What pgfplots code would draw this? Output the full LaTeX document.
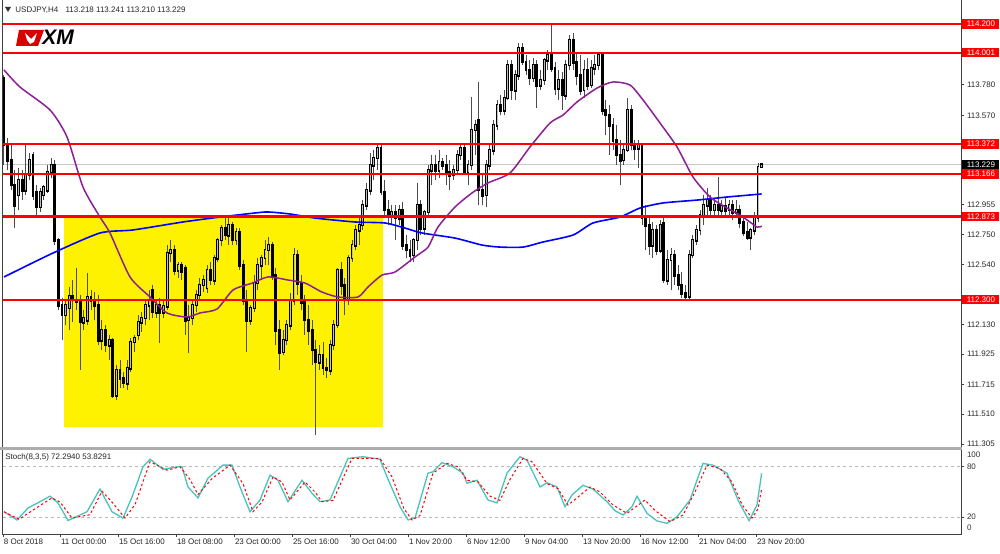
\documentclass[border=0pt]{standalone}
\usepackage{pgfplots}
\pgfplotsset{compat=1.18}
\usepackage{pgfplotstable}
\usepackage{fontspec}
\setmainfont{Liberation Sans}
\definecolor{mablue}{RGB}{0,0,255}
\definecolor{mapurple}{RGB}{140,30,150}
\definecolor{stk}{RGB}{72,196,190}
\definecolor{lvlred}{RGB}{255,0,0}
\newcommand{\smallfont}{\fontsize{4}{4.5}\selectfont}

\pgfplotstableread{
i o h l c
0 113.827 113.848 113.228 113.366
1 113.366 113.414 113.193 113.262
2 113.262 113.366 113.055 113.090
3 113.090 113.193 112.793 112.952
4 113.021 113.207 112.918 113.124
5 113.124 113.193 112.986 113.055
6 113.055 113.366 113.021 113.159
7 113.159 113.310 113.124 113.262
8 113.297 113.317 112.986 113.021
9 113.042 113.090 112.862 112.938
10 112.938 113.069 112.904 113.042
11 113.021 113.090 112.986 113.076
12 113.055 113.228 113.035 113.179
13 113.179 113.276 113.138 113.228
14 113.228 113.262 112.676 112.711
15 112.711 112.725 112.228 112.263
16 112.263 112.311 112.021 112.194
17 112.194 112.297 112.125 112.263
18 112.242 112.387 112.090 112.325
19 112.325 112.435 112.145 112.297
20 112.297 112.518 112.228 112.283
21 112.297 112.332 111.815 112.145
22 112.145 112.228 112.090 112.173
23 112.159 112.483 112.125 112.318
24 112.318 112.366 112.228 112.297
25 112.297 112.352 112.159 112.263
26 112.263 112.332 111.987 112.021
27 112.021 112.159 111.952 112.090
28 112.090 112.125 111.939 111.987
29 111.987 112.056 111.884 112.021
30 112.021 112.035 111.622 111.642
31 111.642 111.849 111.608 111.815
32 111.815 111.884 111.691 111.759
33 111.759 111.801 111.691 111.725
34 111.725 111.884 111.677 111.828
35 111.828 112.035 111.801 112.008
36 112.008 112.056 111.939 112.035
37 112.056 112.194 112.021 112.145
38 112.145 112.214 112.077 112.173
39 112.173 112.297 112.125 112.263
40 112.263 112.366 112.159 112.297
41 112.366 112.401 112.173 112.214
42 112.214 112.297 112.173 112.263
43 112.263 112.311 112.001 112.214
44 112.214 112.297 112.173 112.256
45 112.256 112.676 112.228 112.621
46 112.621 112.711 112.559 112.642
47 112.642 112.676 112.469 112.504
48 112.504 112.559 112.449 112.538
49 112.538 112.559 112.435 112.490
50 112.518 112.538 112.056 112.159
51 112.159 112.263 111.932 112.173
52 112.173 112.297 112.125 112.263
53 112.263 112.366 112.214 112.332
54 112.332 112.449 112.297 112.401
55 112.401 112.469 112.352 112.435
56 112.380 112.538 112.345 112.504
57 112.504 112.559 112.401 112.435
58 112.435 112.607 112.401 112.587
59 112.587 112.725 112.559 112.711
60 112.711 112.814 112.669 112.793
61 112.793 112.869 112.711 112.745
62 112.745 112.869 112.676 112.814
63 112.814 112.835 112.676 112.711
64 112.711 112.793 112.676 112.766
65 112.766 112.793 112.504 112.538
66 112.538 112.573 112.263 112.297
67 112.297 112.366 111.939 112.159
68 112.159 112.263 112.125 112.242
69 112.242 112.469 112.214 112.414
70 112.414 112.587 112.366 112.538
71 112.538 112.607 112.435 112.587
72 112.587 112.711 112.538 112.642
73 112.642 112.731 112.538 112.676
74 112.676 112.697 112.435 112.469
75 112.469 112.518 111.987 112.090
76 112.090 112.159 111.815 111.939
77 111.939 112.090 111.918 112.021
78 112.021 112.159 111.987 112.125
79 112.125 112.345 112.090 112.297
80 112.297 112.656 112.263 112.607
81 112.607 112.642 112.332 112.414
82 112.414 112.469 112.228 112.283
83 112.283 112.332 112.056 112.159
84 112.159 112.263 111.987 112.090
85 112.090 112.159 111.849 111.952
86 111.952 112.021 111.367 111.870
87 111.870 111.987 111.815 111.918
88 111.918 112.008 111.780 111.828
89 111.828 111.897 111.759 111.815
90 111.815 112.021 111.780 111.987
91 111.987 112.159 111.952 112.125
92 112.125 112.518 112.104 112.504
93 112.504 112.559 112.332 112.401
94 112.401 112.449 112.194 112.297
95 112.297 112.607 112.263 112.587
96 112.587 112.711 112.559 112.676
97 112.676 112.814 112.642 112.780
98 112.780 112.883 112.676 112.814
99 112.814 112.986 112.780 112.952
100 112.952 113.104 112.918 113.055
101 113.055 113.310 113.021 113.228
102 113.228 113.331 113.124 113.276
103 113.276 113.366 113.193 113.345
104 113.345 113.372 113.021 113.042
105 113.042 113.124 112.883 112.918
106 112.918 112.986 112.814 112.883
107 112.883 112.952 112.814 112.904
108 112.904 112.952 112.711 112.862
109 112.862 112.952 112.814 112.918
110 112.918 112.973 112.642 112.676
111 112.676 112.745 112.587 112.642
112 112.642 112.711 112.559 112.607
113 112.607 112.725 112.559 112.711
114 112.711 113.104 112.642 112.952
115 112.952 112.986 112.745 112.793
116 112.793 112.918 112.745 112.904
117 112.904 113.228 112.862 113.193
118 113.193 113.297 113.090 113.228
119 113.228 113.297 113.124 113.193
120 113.193 113.331 113.138 113.248
121 113.248 113.276 113.193 113.228
122 113.228 113.297 113.090 113.179
123 113.179 113.262 113.055 113.159
124 113.159 113.228 113.124 113.193
125 113.193 113.331 113.159 113.297
126 113.297 113.379 113.262 113.345
127 113.345 113.379 113.159 113.179
128 113.179 113.262 113.090 113.228
129 113.228 113.696 113.193 113.469
130 113.469 113.538 113.297 113.503
131 113.538 113.800 112.952 113.055
132 113.055 113.159 112.952 113.021
133 113.021 113.262 112.938 113.228
134 113.228 113.366 113.193 113.331
135 113.331 113.538 113.297 113.503
136 113.503 113.676 113.469 113.641
137 113.641 113.710 113.572 113.607
138 113.607 113.745 113.572 113.690
139 113.690 113.951 113.676 113.917
140 113.917 113.951 113.676 113.745
141 113.745 113.883 113.676 113.848
142 113.848 114.069 113.814 114.034
143 114.034 114.069 113.917 113.938
144 113.938 113.986 113.848 113.883
145 113.883 113.951 113.779 113.827
146 113.827 113.965 113.800 113.917
147 113.917 113.951 113.621 113.779
148 113.779 113.883 113.745 113.814
149 113.814 113.965 113.779 113.951
150 113.951 114.020 113.883 113.986
151 113.986 114.193 113.869 113.896
152 113.896 113.938 113.710 113.758
153 113.758 113.883 113.676 113.814
154 113.814 113.869 113.607 113.710
155 113.710 113.951 113.676 113.917
156 113.917 114.124 113.883 114.089
157 114.089 114.137 113.883 113.938
158 113.938 114.007 113.779 113.848
159 113.848 113.986 113.710 113.745
160 113.745 113.951 113.690 113.883
161 113.883 113.965 113.745 113.779
162 113.779 113.951 113.758 113.896
163 113.896 113.986 113.848 113.917
164 113.917 114.000 113.883 113.986
165 113.986 114.000 113.572 113.607
166 113.607 113.676 113.434 113.572
167 113.572 113.641 113.297 113.503
168 113.503 113.552 113.331 113.400
169 113.400 113.503 113.228 113.297
170 113.297 113.400 113.090 113.262
171 113.262 113.366 113.228 113.331
172 113.331 113.690 113.317 113.607
173 113.607 113.641 113.331 113.366
174 113.366 113.400 113.262 113.345
175 113.345 113.400 113.207 113.366
176 113.366 113.379 112.814 112.869
177 112.869 112.952 112.642 112.814
178 112.814 112.883 112.607 112.676
179 112.676 112.835 112.587 112.780
180 112.780 112.814 112.607 112.642
181 112.642 112.849 112.621 112.814
182 112.828 112.862 112.414 112.435
183 112.435 112.642 112.401 112.573
184 112.573 112.656 112.366 112.607
185 112.607 112.642 112.401 112.469
186 112.469 112.538 112.366 112.401
187 112.401 112.490 112.311 112.345
188 112.345 112.401 112.297 112.325
189 112.325 112.642 112.297 112.607
190 112.607 112.745 112.587 112.711
191 112.711 112.814 112.676 112.780
192 112.780 112.918 112.745 112.883
193 112.883 113.021 112.814 112.952
194 112.952 113.069 112.883 112.986
195 112.986 113.021 112.862 112.918
196 112.918 113.000 112.862 112.952
197 112.952 113.145 112.883 112.918
198 112.918 112.986 112.862 112.945
199 112.945 113.000 112.883 112.918
200 112.918 112.986 112.862 112.952
201 112.952 112.986 112.849 112.904
202 112.904 112.986 112.862 112.918
203 112.918 112.952 112.793 112.835
204 112.835 112.883 112.738 112.766
205 112.766 112.835 112.711 112.731
206 112.731 112.793 112.642 112.780
207 112.780 112.904 112.745 112.869
208 112.869 113.241 112.835 113.214
209 113.218 113.241 113.210 113.229
}\candles

\begin{document}
\begin{tikzpicture}[x=0.5pt,y=0.5pt]
\fill[white] (0,0) rectangle (1000,553);

% ---------------- main price panel ----------------
\begin{axis}[
  at={(1.5pt,53pt)}, anchor=south west, scale only axis,
  width=479pt, height=223.5pt,
  xmin=-0.276, xmax=264, ymin=111.284, ymax=114.365,
  axis line style={black!75, line width=0.5pt},
  xtick=\empty,
  ytick pos=right, yticklabel pos=right,
  ytick={111.305,111.510,111.715,111.925,112.130,112.540,112.750,112.955,113.570,113.780},
  yticklabels={111.305,111.510,111.715,111.925,112.130,112.540,112.750,112.955,113.570,113.780},
  tick align=outside, major tick length=1.5pt,
  tick style={black!75, line width=0.4pt},
  yticklabel style={font=\smallfont, inner sep=0pt, anchor=west, xshift=1.3pt, text=black!85},
  clip mode=individual,
]
% highlighted range
\addplot[fill=yellow, draw=none] coordinates {(16.55,111.424) (104.55,111.424) (104.55,112.873) (16.55,112.873)};
% current price line
\addplot[gray!45, line width=0.4pt] coordinates {(-0.276,113.229) (264,113.229)};
% wicks
\addplot[only marks, mark size=0pt, mark options={draw=none,fill=none}, error bars/.cd, y dir=plus, y explicit, error mark=none,
  error bar style={black!70, line width=0.5pt}]
  table[x=i, y=l, y error expr={\thisrow{h}-\thisrow{l}}] {\candles};
% bodies (outline / bearish fill)
\addplot[only marks, mark size=0pt, mark options={draw=none,fill=none}, error bars/.cd, y dir=both, y explicit, error mark=none,
  error bar style={black, line width=1.4pt, line cap=rect}]
  table[x=i, y expr={(\thisrow{o}+\thisrow{c})/2}, y error expr={abs(\thisrow{c}-\thisrow{o})/2}] {\candles};
% bullish interior
\addplot[only marks, mark size=0pt, mark options={draw=none,fill=none}, error bars/.cd, y dir=both, y explicit, error mark=none,
  error bar style={black!25, line width=0.5pt, line cap=butt}]
  table[x=i, y expr={(\thisrow{o}+\thisrow{c})/2}, y error expr={max(\thisrow{c}-\thisrow{o},0)/2}] {\candles};
% moving averages
\addplot[mablue, line width=0.8pt, smooth, tension=0.4] coordinates {
(0,112.456) (13.52,112.621) (26.48,112.759) (35.59,112.780) (49.38,112.835) (59.59,112.869)
(69.24,112.897) (72.83,112.904) (78.90,112.890) (85.79,112.862) (96.83,112.835) (105.10,112.828)
(110.62,112.793) (115.31,112.759) (124.41,112.724) (131.86,112.676) (136.83,112.662) (143.17,112.662)
(148.69,112.697) (156.97,112.745) (162.48,112.828) (169.93,112.869) (175.45,112.931) (181.79,112.966)
(191.17,112.986) (199.45,113.007) (209,113.028)};
\addplot[mapurple, line width=0.75pt, smooth, tension=0.4] coordinates {
(0,113.883) (4.41,113.765) (12.69,113.607) (17.38,113.421) (21.79,113.076) (26.48,112.869)
(29.24,112.759) (34.76,112.456) (40.28,112.318) (44.97,112.208) (50.48,112.180) (54.07,112.208)
(58.76,112.235) (63.17,112.366) (68.5,112.414) (72.83,112.456) (78.34,112.435) (83.03,112.414)
(87.72,112.352) (92.14,112.318) (97.66,112.318) (100.41,112.387) (104.28,112.469) (107.86,112.490)
(113.38,112.594) (116.97,112.662) (119.72,112.800) (124.41,112.938) (129.10,113.035) (133.52,113.104)
(139.59,113.173) (145.10,113.352) (150.62,113.517) (154.21,113.572) (158.07,113.662) (163.59,113.758)
(168.00,113.800) (172.69,113.779) (176.28,113.676) (180.97,113.517) (185.66,113.352) (190.07,113.145)
(194.76,113.007) (199.45,112.931) (203.86,112.869) (207.72,112.800) (209,112.807)};
% horizontal levels
\addplot[lvlred, line width=1.05pt] coordinates {(-0.276,114.200) (264,114.200)};
\addplot[lvlred, line width=1.05pt] coordinates {(-0.276,114.001) (264,114.001)};
\addplot[lvlred, line width=1.05pt] coordinates {(-0.276,113.372) (264,113.372)};
\addplot[lvlred, line width=1.05pt] coordinates {(-0.276,113.166) (264,113.166)};
\addplot[lvlred, line width=1.05pt] coordinates {(-0.276,112.873) (264,112.873)};
\addplot[lvlred, line width=1.05pt] coordinates {(-0.276,112.300) (264,112.300)};
% price labels
\tikzset{lvl/.style={fill=lvlred, text=white, font=\smallfont, inner sep=0pt, minimum width=18.5pt, minimum height=4.6pt, anchor=west, xshift=0.5pt}}
\node[lvl] at (axis cs:264,114.200) {114.200};
\node[lvl] at (axis cs:264,114.001) {114.001};
\node[lvl] at (axis cs:264,113.372) {113.372};
\node[lvl] at (axis cs:264,113.166) {113.166};
\node[lvl] at (axis cs:264,112.873) {112.873};
\node[lvl] at (axis cs:264,112.300) {112.300};
\node[lvl, fill=black] at (axis cs:264,113.229) {113.229};
\end{axis}

% ---------------- stochastic panel ----------------
\begin{axis}[
  at={(1.5pt,9.5pt)}, anchor=south west, scale only axis,
  width=479pt, height=42.25pt,
  xmin=-0.276, xmax=264, ymin=0, ymax=100.6,
  axis line style={black!75, line width=0.5pt},
  ytick pos=right, yticklabel pos=right,
  ytick={20,80}, yticklabels={20,80},
  extra y ticks={7,94}, extra y tick labels={0,100},
  extra y tick style={tick style={draw=none}},
  xtick={-0.276,15.45,31.45,47.45,63.45,79.45,95.45,111.45,127.45,143.45,159.45,175.45,191.45,207.45},
  xticklabels={8 Oct 2018,11 Oct 00:00,15 Oct 16:00,18 Oct 08:00,23 Oct 00:00,25 Oct 16:00,30 Oct 04:00,1 Nov 20:00,6 Nov 12:00,9 Nov 04:00,13 Nov 20:00,16 Nov 12:00,21 Nov 04:00,23 Nov 20:00},
  xtick pos=left,
  tick align=outside, major tick length=1.5pt,
  tick style={black!75, line width=0.4pt},
  xticklabel style={font=\smallfont, inner sep=0pt, anchor=north west, xshift=0.3pt, yshift=-1pt, text=black!85},
  yticklabel style={font=\smallfont, inner sep=0pt, anchor=west, xshift=1.3pt, text=black!80},
  clip mode=individual,
]
\addplot[gray!55, line width=0.35pt, dash pattern=on 1.5pt off 1.5pt] coordinates {(-0.276,80) (264,80)};
\addplot[gray!55, line width=0.35pt, dash pattern=on 1.5pt off 1.5pt] coordinates {(-0.276,20) (264,20)};
\addplot[stk, line width=0.65pt] coordinates {
(0,26.5) (3.59,16.7) (6.62,31) (9.93,38.5) (12.69,45) (14.90,37) (17.66,16) (22.90,26.5) (26.48,53.5)
(29.79,26.5) (32.83,19) (35.31,44) (38.34,80) (40.28,89) (43.86,77) (47.72,80) (49.10,80) (50.76,56)
(53.52,43) (56.28,66.5) (60.41,82) (62.90,82) (65.10,56) (67.86,26.5) (70.62,40.5) (73.38,70) (75.59,64)
(78.34,38.5) (82.21,64) (84.97,48.5) (87.17,38.5) (89.93,40.5) (94.90,90) (99.03,92) (103.72,89)
(105.66,68) (109.24,32.5) (111.45,16.7) (113.38,19) (116.97,72.5) (118.34,74) (120.83,85) (123.86,80)
(126.62,72.5) (127.72,60.5) (130.48,64) (133.52,40.5) (136.00,37) (138.76,72.5) (142.34,92) (144.28,88)
(147.86,56) (149.79,61) (152.55,56) (154.76,32.5) (156.69,46.5) (159.72,58) (162.48,53.5) (166.34,38.5)
(168.55,27.7) (170.76,22.6) (173.24,32.5) (174.62,45) (177.38,24.6) (180.14,15.5) (182.90,12.7)
(185.66,20.6) (189.24,40.5) (191.17,64) (192.83,84) (195.59,82) (199.45,72.5) (202.48,40.5)
(205.52,15.9) (207.72,34.5) (209,72.29)};
\addplot[red, line width=0.5pt, dash pattern=on 1.2pt off 1.2pt] coordinates {
(0,26.5) (4.14,17.5) (8.55,30) (13.24,43) (15.45,38) (18.76,19) (23.72,23) (27.03,51) (29.79,38)
(33.38,19) (36.14,35) (40.28,86) (44.97,76) (48.55,80) (51.31,65) (53.52,47) (57.38,66) (62.34,82)
(65.93,60) (68.69,26.5) (71.17,38) (74.21,68) (76.69,62) (78.90,40.5) (83.03,62) (85.79,50) (87.72,38.5)
(90.76,40) (96.00,90) (103.72,90) (107.03,68) (110.34,30) (112.55,16.7) (114.76,22) (118.34,72.5)
(122.21,84) (125.24,80) (127.72,64) (130.76,62) (134.07,45) (136.83,40) (139.59,65) (143.17,90)
(145.66,86) (149.79,60) (152.83,54) (155.59,34.5) (158.34,44) (161.66,56) (164.41,50) (168.00,34.5)
(171.86,24.6) (176.83,40.5) (179.59,28) (183.72,14.7) (187.31,22.6) (190.62,50) (193.93,82)
(197.52,78) (200.83,62) (203.59,35) (206.34,19) (208.0,30) (209,53.83)};
\end{axis}

% separator band between panels
\fill[gray!65] (0,103) rectangle (962,106.5);

% header
\fill[black!80] (5,546) -- (11,546) -- (8,541) -- cycle;
\node[anchor=west, inner sep=0pt, font=\smallfont, text=black!85] at (15,543) {USDJPY,H4\hspace{2.5pt} 113.218 113.241 113.210 113.229};
% stochastic title
\node[anchor=west, inner sep=0pt, font=\smallfont, text=black!85] at (5,96) {Stoch(8,3,5) 72.2940 53.8291};

% XM logo
\fill[red!85!black] (19,523) -- (44,523) -- (38,507) -- (16,507) -- cycle;
\fill[white] (25,520) -- (31,514) -- (37,520) -- (34,511) -- (30,509) -- (27,513) -- cycle;
\node[anchor=west, inner sep=0pt, font=\fontsize{10.5}{10.5}\selectfont\bfseries\itshape] at (42,515.5) {XM};

\pgfresetboundingbox
\useasboundingbox (0,0) rectangle (1000,553);
\end{tikzpicture}
\end{document}
